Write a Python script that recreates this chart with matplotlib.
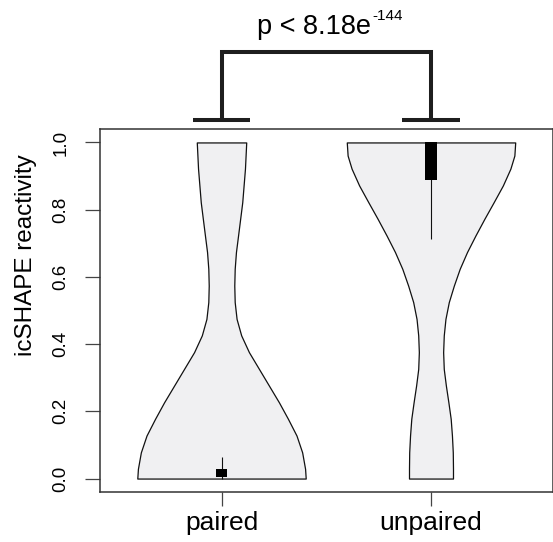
import matplotlib
matplotlib.use("Agg")
import matplotlib.pyplot as plt
import numpy as np

plt.rcParams['font.family'] = ['Liberation Sans', 'DejaVu Sans']

# ---- data -------------------------------------------------------------
groups = ['paired', 'unpaired']
positions = [1, 2]

# violin outline: y levels and half-widths (x units)
paired_y = [1.000, 0.922, 0.822, 0.723, 0.674, 0.624, 0.574, 0.525, 0.475,
            0.426, 0.376, 0.326, 0.277, 0.227, 0.178, 0.128, 0.078, 0.029, 0.000]
paired_hw = [0.118, 0.112, 0.099, 0.079, 0.069, 0.063, 0.061, 0.063, 0.072,
             0.094, 0.131, 0.179, 0.226, 0.274, 0.317, 0.358, 0.385, 0.399, 0.402]

unpaired_y = [1.000, 0.961, 0.922, 0.872, 0.822, 0.773, 0.723, 0.674, 0.624,
              0.574, 0.525, 0.475, 0.426, 0.376, 0.326, 0.277, 0.227, 0.178,
              0.128, 0.078, 0.029, 0.000]
unpaired_hw = [0.402, 0.398, 0.379, 0.343, 0.299, 0.255, 0.212, 0.172, 0.137,
               0.109, 0.085, 0.069, 0.061, 0.058, 0.061, 0.071, 0.083, 0.094,
               0.100, 0.104, 0.105, 0.105]

# box-plot summaries
q1 = [0.004, 0.887]
q3 = [0.029, 1.000]
whisk_lo = [0.000, 0.713]
whisk_hi = [0.063, 1.000]

yticks = [0.0, 0.2, 0.4, 0.6, 0.8, 1.0]
ytick_labels = ['0.0', '0.2', '0.4', '0.6', '0.8', '1.0']
ylabel = 'icSHAPE reactivity'
p_text = 'p < 8.18e'
p_exp = '-144'

# ---- figure -----------------------------------------------------------
W, H = 553, 542
fig = plt.figure(figsize=(W / 100, H / 100), dpi=100)
ax = fig.add_axes([100 / W, 1 - 492 / H, 452.5 / W, 363 / H])
ax.set_xlim(0.42, 2.58)
ax.set_ylim(-0.04, 1.04)

fill_col = '#f0f0f2'
for pos, ys, hws in [(positions[0], paired_y, paired_hw),
                     (positions[1], unpaired_y, unpaired_hw)]:
    ys = np.array(ys)
    hws = np.array(hws)
    ax.fill_betweenx(ys, pos - hws, pos + hws, facecolor=fill_col,
                     edgecolor='#111111', linewidth=0.9, zorder=2)

for i, pos in enumerate(positions):
    ax.vlines(pos, whisk_lo[i], whisk_hi[i], color='#111111', lw=0.8, zorder=3)
    ax.bar(pos, q3[i] - q1[i], bottom=q1[i], width=0.056, color='black',
           zorder=4)

# spines / ticks
for s in ax.spines.values():
    s.set_color('#333333')
    s.set_linewidth(1.1)
ax.set_xticks(positions)
ax.set_xticklabels(groups, fontsize=19)
ax.set_yticks(yticks)
ax.set_yticklabels(ytick_labels, rotation=90, va='center', fontsize=13.5)
ax.tick_params(axis='y', length=10.8, width=0.9, color='#444444', pad=11)
ax.tick_params(axis='x', length=10, width=0.9, color='#444444', pad=4)

fig.text(26 / W, 1 - 255 / H, ylabel, rotation=90, ha='center', va='center',
         fontsize=17.5)

# significance bracket
lw_b = 2.9
col_b = '#1e1e1e'
y_t = 1.068
y_top = 1.269
hw_t = 0.137
for pos in positions:
    ax.plot([pos - hw_t, pos + hw_t], [y_t, y_t], color=col_b, lw=lw_b,
            clip_on=False, solid_capstyle='butt')
ax.plot([positions[0], positions[0], positions[1], positions[1]],
        [y_t, y_top, y_top, y_t], color=col_b, lw=lw_b, clip_on=False,
        solid_joinstyle='miter', solid_capstyle='butt')

t = ax.text(1.714, 1.3235, p_text, ha='right', va='baseline', fontsize=19.5,
            clip_on=False)
ax.text(1.718, 1.363, p_exp, ha='left', va='baseline', fontsize=11,
        clip_on=False)

fig.savefig('out.png', dpi=100)
